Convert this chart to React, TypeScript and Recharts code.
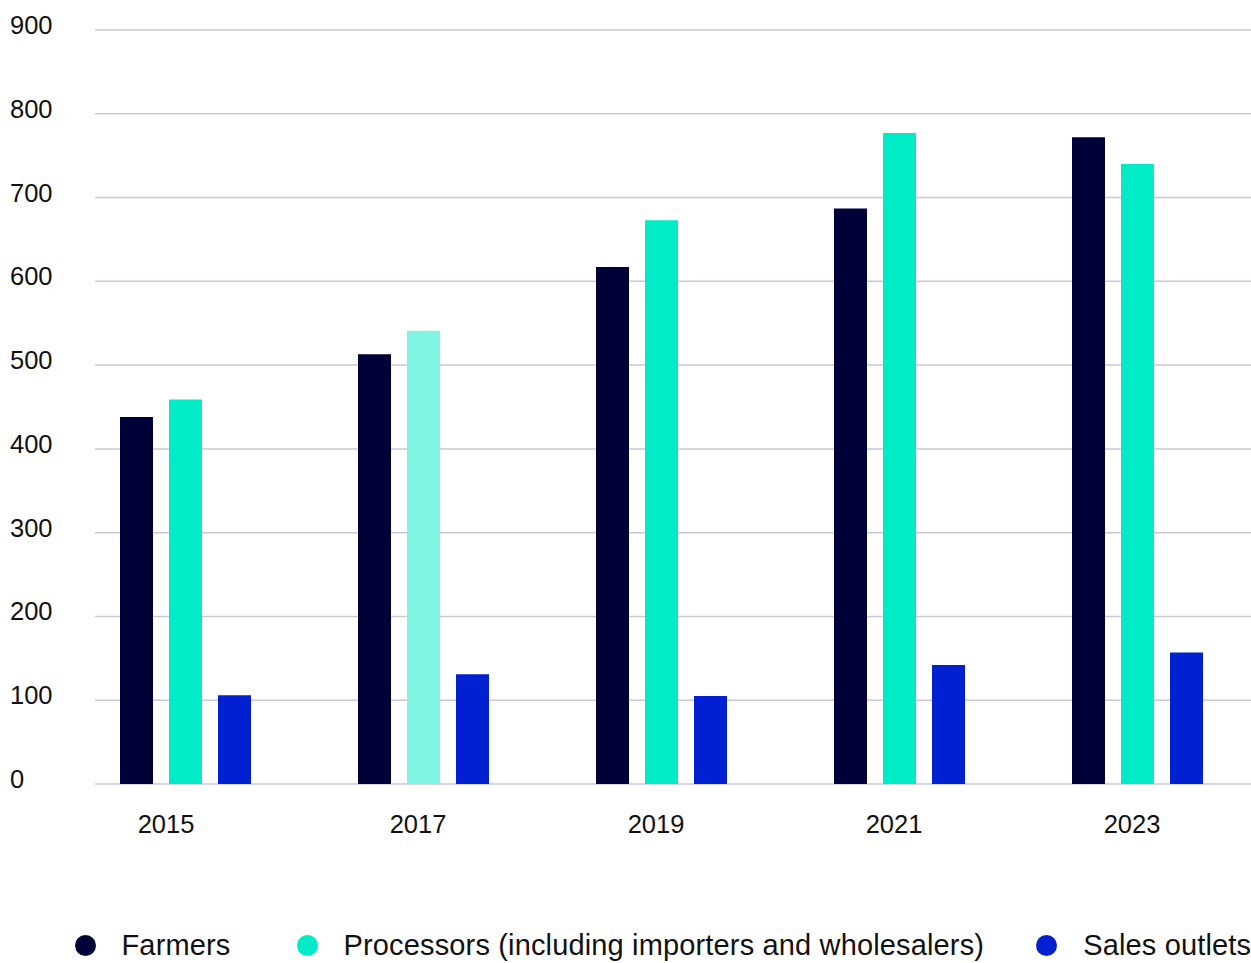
import { Bar, BarChart, CartesianGrid, Cell, Legend, XAxis, YAxis } from "recharts";

const years = ["2015", "2017", "2019", "2021", "2023"];
const farmers = [438, 513, 617, 687, 772];
const processors = [459, 541, 673, 777, 740];
const salesOutlets = [106, 131, 105, 142, 157];
const yTicks = [0, 100, 200, 300, 400, 500, 600, 700, 800, 900];
const highlightedYear = "2017";

const COLORS = {
  farmers: "#000038",
  processors: "#00EBC8",
  processorsLight: "#80F5E2",
  sales: "#0020D2",
};

const data = years.map((year, i) => ({
  year,
  farmers: farmers[i],
  processors: processors[i],
  sales: salesOutlets[i],
}));

function YTick({ y, payload }: any) {
  return (
    <text x={10} y={y - 5} textAnchor="start" dominantBaseline="central" fontSize={25.5} fill="#111">
      {payload.value}
    </text>
  );
}

function XTick({ x, y, payload, index }: any) {
  const shift = index === 0 ? -48 : -34;
  return (
    <text x={x + shift} y={y} dy={32} textAnchor="middle" dominantBaseline="central" fontSize={25.5} fill="#111">
      {payload.value}
    </text>
  );
}

// gaps after each legend item, as in the original layout
const legendGaps = [66, 52, 0];

function LegendContent({ payload }: any) {
  return (
    <div style={{ display: "flex", alignItems: "center", paddingLeft: 74.5, whiteSpace: "nowrap" }}>
      {payload.map((item: any, i: number) => (
        <div key={item.value} style={{ display: "flex", alignItems: "center", marginRight: legendGaps[i] }}>
          <span
            style={{
              width: 21,
              height: 21,
              borderRadius: "50%",
              background: item.color,
              display: "inline-block",
              marginRight: 26,
            }}
          />
          <span style={{ fontSize: 29, letterSpacing: 0.15, color: "#111" }}>{item.value}</span>
        </div>
      ))}
    </div>
  );
}

export default function App() {
  return (
    <div
      style={{
        position: "absolute",
        left: 0,
        top: 0,
        width: 1251,
        height: 963,
        overflow: "hidden",
        fontFamily: "'Liberation Sans', Arial, sans-serif",
      }}
    >
      <BarChart
        width={1300}
        height={963}
        data={data}
        margin={{ top: 30, right: 15, left: 0, bottom: 79 }}
        barGap={16}
      >
        <CartesianGrid vertical={false} stroke="#C8C8D8" strokeWidth={1.5} />
        <XAxis dataKey="year" axisLine={false} tickLine={false} height={60} tick={<XTick />} interval={0} />
        <YAxis
          width={95}
          domain={[0, 900]}
          ticks={yTicks}
          axisLine={false}
          tickLine={false}
          tick={<YTick />}
          interval={0}
        />
        <Legend
          verticalAlign="bottom"
          height={40}
          content={<LegendContent />}
          wrapperStyle={{ top: 929, left: 0, bottom: "auto", width: 1300 }}
        />
        <Bar dataKey="farmers" name="Farmers" fill={COLORS.farmers} barSize={33} isAnimationActive={false} />
        <Bar
          dataKey="processors"
          name="Processors (including importers and wholesalers)"
          fill={COLORS.processors}
          barSize={33}
          isAnimationActive={false}
        >
          {data.map((d) => (
            <Cell key={d.year} fill={d.year === highlightedYear ? COLORS.processorsLight : COLORS.processors} />
          ))}
        </Bar>
        <Bar dataKey="sales" name="Sales outlets" fill={COLORS.sales} barSize={33} isAnimationActive={false} />
        <Bar dataKey="spacer" legendType="none" fill="transparent" barSize={41} isAnimationActive={false} />
      </BarChart>
    </div>
  );
}
